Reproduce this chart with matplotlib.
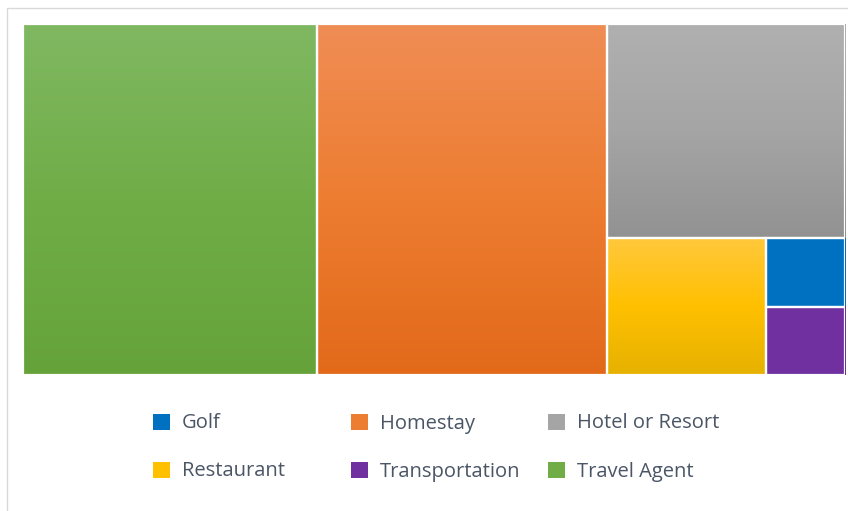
import numpy as np
import matplotlib.pyplot as plt
from matplotlib.colors import to_rgb
from matplotlib.patches import Rectangle

plt.rcParams['font.family'] = ['Open Sans', 'DejaVu Sans']

# ── data ────────────────────────────────────────────────────────────────────
categories = ["Travel Agent", "Homestay", "Hotel or Resort",
              "Restaurant", "Golf", "Transportation"]
values = [74, 73, 36.6, 15.6, 3.9, 3.9]
base_colors = ["#70ad47", "#ed7d31", "#a5a5a5", "#ffc000", "#0070c0", "#7030a0"]
top_colors = ["#80b862", "#f08d55", "#b0b0b0", "#ffc83c", "#0070c0", "#7030a0"]
bottom_colors = ["#65a33a", "#e2691a", "#929292", "#e6b100", "#0070c0", "#7030a0"]
legend_order = ["Golf", "Homestay", "Hotel or Resort",
                "Restaurant", "Transportation", "Travel Agent"]

W, H = 848, 511
PX0, PY0, PW, PH = 23, 24, 822, 351   # plot area in pixels


# ── squarified layout ──────────────────────────────────────────────────────
def worst(row, side):
    s = sum(row)
    return max(max(side * side * r / (s * s), s * s / (side * side * r)) for r in row)


def squarify(areas, x, y, w, h):
    rects = []
    areas = list(areas)
    while areas:
        side = min(w, h)
        row = [areas[0]]
        i = 1
        while i < len(areas) and worst(row + [areas[i]], side) <= worst(row, side):
            row.append(areas[i])
            i += 1
        s = sum(row)
        if w >= h:
            cw = s / h
            yy = y
            for r in row:
                rh = r / cw
                rects.append((x, yy, cw, rh))
                yy += rh
            x += cw
            w -= cw
        else:
            rh = s / w
            xx = x
            for r in row:
                rw = r / rh
                rects.append((xx, y, rw, rh))
                xx += rw
            y += rh
            h -= rh
        areas = areas[i:]
    return rects


total = sum(values)
areas = [v / total * PW * PH for v in values]
rects = squarify(areas, 0, 0, PW, PH)

fig = plt.figure(figsize=(W / 100, H / 100), dpi=100)

# background axes in pixel coordinates (border + legend)
bg = fig.add_axes([0, 0, 1, 1])
bg.set_xlim(0, W)
bg.set_ylim(H, 0)
bg.axis("off")
bg.add_patch(Rectangle((7, 8), W + 20, H, fill=False, edgecolor="#d9d9d9", lw=1))

ax = fig.add_axes([PX0 / W, 1 - (PY0 + PH) / H, PW / W, PH / H])
for (x, y, w, h), mid, top, bot in zip(rects, base_colors, top_colors, bottom_colors):
    t = np.linspace(0, 1, 200)[:, None]
    top, mid, bot = (np.array(to_rgb(c)) for c in (top, mid, bot))
    img = np.where(t < 0.5, top + (mid - top) * (t / 0.5),
                   mid + (bot - mid) * ((t - 0.5) / 0.5))
    img = np.repeat(img[:, None, :], 4, axis=1)
    ax.imshow(img, extent=(x, x + w, y + h, y),
              aspect="auto", origin="upper", interpolation="nearest")
    ax.add_patch(Rectangle((x, y), w, h, fill=False, edgecolor="white", lw=1.6))
ax.set_xlim(0, PW)
ax.set_ylim(PH, 0)
ax.axis("off")

# legend
col_x = [153, 351, 548]
row_y = [422, 470]
for i, name in enumerate(legend_order):
    cx, cy = col_x[i % 3], row_y[i // 3]
    c = base_colors[categories.index(name)]
    bg.add_patch(Rectangle((cx, cy - 8), 17, 16, facecolor=c, edgecolor="none"))
    bg.text(cx + 29, cy + 1.5, name, fontsize=14.5, color="#4a5566",
            va="center", ha="left")

fig.savefig("out.png", dpi=100)
